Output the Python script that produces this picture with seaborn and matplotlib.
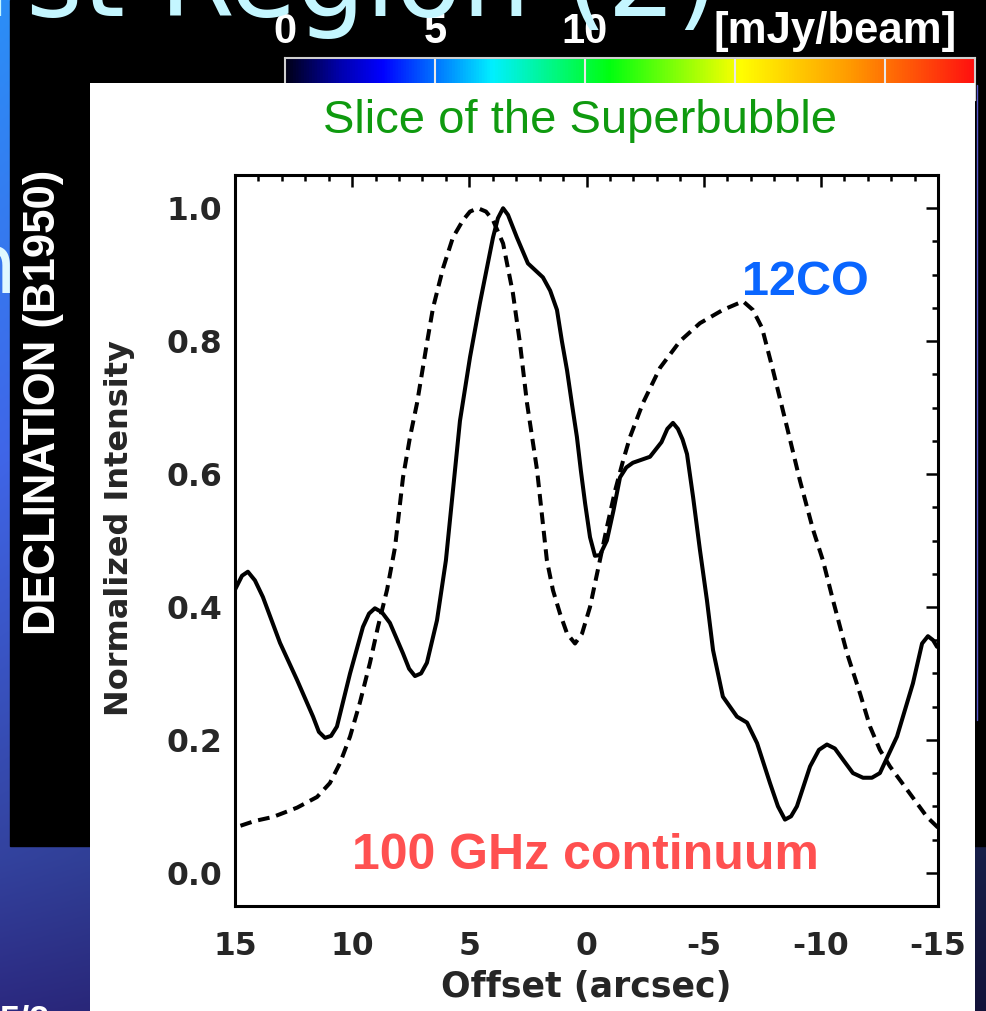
import numpy as np
import pandas as pd
import matplotlib
matplotlib.use("Agg")
import matplotlib.pyplot as plt
import seaborn as sns
from matplotlib.colors import LinearSegmentedColormap
from matplotlib.patches import Rectangle
from matplotlib.ticker import MultipleLocator, FormatStrFormatter

# ---------------------------------------------------------------- data
# 100 GHz continuum slice (solid)
cont_offset = [15.00, 14.70, 14.45, 14.15, 13.81, 13.08, 12.35, 11.67, 11.42, 11.16,
               10.90, 10.65, 10.09, 9.54, 9.28, 9.03, 8.73, 8.39, 7.83, 7.57,
               7.32, 7.06, 6.81, 6.38, 6.00, 5.40, 4.97, 4.55, 3.99, 3.78,
               3.56, 3.35, 2.97, 2.50, 1.86, 1.55, 1.26, 1.05, 0.83, 0.62,
               0.41, 0.24, 0.06, -0.15, -0.36, -0.57, -0.87, -1.15, -1.43, -1.70,
               -1.98, -2.71, -3.20, -3.45, -3.69, -3.90, -4.10, -4.29, -4.55, -4.84,
               -5.14, -5.40, -5.82, -6.42, -6.85, -7.28, -7.83, -8.17, -8.47, -8.73,
               -8.98, -9.54, -9.92, -10.26, -10.60, -10.95, -11.37, -11.80, -12.18, -12.52,
               -13.25, -13.93, -14.32, -14.57, -14.79, -14.96]
cont_value = [0.426, 0.447, 0.453, 0.440, 0.415, 0.346, 0.290, 0.235, 0.212, 0.203,
              0.206, 0.220, 0.300, 0.370, 0.390, 0.398, 0.392, 0.376, 0.330, 0.307,
              0.296, 0.300, 0.316, 0.380, 0.470, 0.680, 0.776, 0.857, 0.956, 0.985,
              1.000, 0.990, 0.956, 0.917, 0.896, 0.876, 0.847, 0.800, 0.756, 0.705,
              0.656, 0.605, 0.556, 0.505, 0.477, 0.478, 0.500, 0.545, 0.595, 0.610,
              0.617, 0.626, 0.648, 0.668, 0.677, 0.668, 0.652, 0.630, 0.565, 0.486,
              0.410, 0.335, 0.265, 0.235, 0.226, 0.195, 0.135, 0.100, 0.080, 0.085,
              0.100, 0.160, 0.185, 0.193, 0.187, 0.170, 0.150, 0.143, 0.143, 0.150,
              0.205, 0.285, 0.345, 0.356, 0.350, 0.340]

# 12CO slice (dashed)
co_offset = [15.00, 14.15, 13.38, 12.35, 11.50, 10.95, 10.52, 10.09, 9.67, 9.24,
             8.90, 8.51, 8.17, 7.83, 7.53, 7.23, 6.81, 6.55, 6.12, 5.70,
             5.27, 4.97, 4.63, 4.29, 3.99, 3.56, 3.14, 2.84, 2.54, 2.11,
             1.69, 1.43, 1.13, 0.83, 0.49, 0.19, -0.15, -0.45, -0.87, -1.22,
             -1.56, -1.86, -2.41, -3.14, -3.99, -4.84, -5.82, -6.68, -7.10, -7.49,
             -7.96, -8.56, -9.11, -9.67, -10.09, -10.52, -11.12, -11.67, -12.10, -12.52,
             -12.95, -13.68, -14.53, -15.00]
co_value = [0.068, 0.078, 0.084, 0.098, 0.114, 0.135, 0.165, 0.205, 0.256, 0.316,
            0.370, 0.426, 0.490, 0.595, 0.656, 0.707, 0.797, 0.850, 0.910, 0.956,
            0.982, 0.995, 1.000, 0.995, 0.982, 0.947, 0.872, 0.797, 0.707, 0.606,
            0.470, 0.425, 0.390, 0.360, 0.345, 0.360, 0.400, 0.450, 0.520, 0.575,
            0.620, 0.656, 0.707, 0.760, 0.800, 0.827, 0.847, 0.860, 0.847, 0.820,
            0.756, 0.670, 0.590, 0.516, 0.470, 0.410, 0.330, 0.270, 0.220, 0.185,
            0.160, 0.125, 0.084, 0.068]

x_ticks = [15, 10, 5, 0, -5, -10, -15]
x_tick_labels = ["15", "10", "5", "0", "-5", "-10", "-15"]
y_ticks = [0.0, 0.2, 0.4, 0.6, 0.8, 1.0]

cbar_ticks = [0, 5, 10]
cbar_tick_labels = ["0", "5", "10"]
cbar_marks = [5, 10, 15, 20]
cbar_max = 23

cont_df = pd.DataFrame({"offset": cont_offset, "intensity": cont_value})
co_df = pd.DataFrame({"offset": co_offset, "intensity": co_value})

# ---------------------------------------------------------------- layout helpers
W, H = 986, 1011


def fx(px):
    return px / W


def fy(py):
    return 1 - py / H


sns.set_style("white")
plt.rcParams["font.family"] = ["DejaVu Sans"]
plt.rcParams["axes.unicode_minus"] = False

fig = plt.figure(figsize=(W / 100, H / 100), dpi=100)

# ---------------------------------------------------------------- slide background
bg = fig.add_axes([0, 0, 1, 1])
yy = np.linspace(0, 1, H)
stops = [0.0, 0.45, 0.85, 1.0]
cols = np.array([[0.17, 0.56, 0.97],
                 [0.25, 0.40, 0.91],
                 [0.20, 0.26, 0.62],
                 [0.17, 0.16, 0.50]])
grad_col = np.stack([np.interp(yy, stops, cols[:, c]) for c in range(3)], axis=-1)
shade = 1 - 0.55 * np.linspace(0, 1, W)
grad = grad_col[:, None, :] * shade[None, :, None]
bg.imshow(grad, extent=(0, W, H, 0), aspect="auto", zorder=0)
bg.add_patch(Rectangle((10, 0), W - 10, 846, color="black", zorder=1))
bg.plot([977, 977], [85, 720], color="#5a5ad0", lw=1.0, zorder=2)
bg.set_xlim(0, W)
bg.set_ylim(H, 0)
bg.axis("off")

# ---------------------------------------------------------------- colour bar
rainbow = LinearSegmentedColormap.from_list(
    "idl_rainbow",
    [(0.0, "#000018"), (0.08, "#0000b0"), (0.14, "#0000ff"), (0.30, "#00f0ff"),
     (0.47, "#00ff10"), (0.66, "#ffff00"), (0.82, "#ff9a00"), (1.0, "#ff1010")])
cax = fig.add_axes([fx(285), fy(100), (975 - 285) / W, (100 - 58) / H])
cax.imshow(np.linspace(0, 1, 512)[None, :], cmap=rainbow,
           extent=(0, cbar_max, 0, 1), aspect="auto")
for v in cbar_marks:
    cax.axvline(v, color="#e8e8e8", lw=1.5)
cax.set_xlim(0, cbar_max)
cax.set_ylim(0, 1)
cax.set_yticks([])
cax.xaxis.tick_top()
cax.set_xticks(cbar_ticks)
cax.set_xticklabels(cbar_tick_labels, family="Liberation Sans", fontweight="bold",
                    fontsize=30, color="white")
cax.tick_params(axis="x", length=0, pad=4.5)
for s in cax.spines.values():
    s.set_color("#cfcfcf")
    s.set_linewidth(1.5)
fig.text(fx(714), fy(43), "[mJy/beam]", family="Liberation Sans", fontweight="bold",
         fontsize=31.5, color="white", ha="left", va="baseline")

# map axis title on the black panel
fig.text(fx(44), fy(402), "DECLINATION (B1950)", family="Liberation Sans",
         fontweight="bold", fontsize=31.5, color="white", rotation=90,
         ha="center", va="center")

# ---------------------------------------------------------------- white plot panel
pax = fig.add_axes([fx(90), 0, (975 - 90) / W, fy(83)])
pax.patch.set_facecolor("white")
pax.set_xticks([])
pax.set_yticks([])
for s in pax.spines.values():
    s.set_visible(False)

# ---------------------------------------------------------------- profile plot
ax = fig.add_axes([fx(235), fy(906), (938 - 235) / W, (906 - 175) / H])
ax.patch.set_alpha(0)
sns.lineplot(data=cont_df, x="offset", y="intensity", ax=ax, color="black",
             lw=2.9, errorbar=None)
sns.lineplot(data=co_df, x="offset", y="intensity", ax=ax, color="black",
             lw=2.9, linestyle=(0, (2.9, 1.7)), errorbar=None)
for ln in ax.get_lines():
    ln.set_solid_joinstyle("round")
    ln.set_dash_joinstyle("round")

ax.set_xlim(15, -15)
ax.set_ylim(-0.05, 1.05)
ax.set_xticks(x_ticks)
ax.set_xticklabels(x_tick_labels)
ax.set_yticks(y_ticks)
ax.yaxis.set_major_formatter(FormatStrFormatter("%.1f"))
ax.xaxis.set_minor_locator(MultipleLocator(1))
ax.yaxis.set_minor_locator(MultipleLocator(0.05))
ax.tick_params(which="both", direction="in", top=True, right=True,
               width=1.8, color="black")
ax.tick_params(which="major", length=8.6, labelsize=22.7)
ax.tick_params(which="minor", length=4.3)
ax.tick_params(axis="x", which="major", pad=18)
ax.tick_params(axis="y", which="major", pad=9.4)
for lab in ax.get_xticklabels() + ax.get_yticklabels():
    lab.set_fontweight("bold")
for s in ax.spines.values():
    s.set_linewidth(2.2)
    s.set_color("black")

ax.set_xlabel("Offset (arcsec)", fontsize=25, fontweight="bold", va="top")
ax.xaxis.set_label_coords(0.5, (906 - 970) / (906 - 175))
ax.set_ylabel("Normalized Intensity", fontsize=23, fontweight="bold")
ax.yaxis.set_label_coords((135 - 235) / (938 - 235), (906 - 528) / (906 - 175))

ax.text(-6.64, 0.870, "12CO", family="Liberation Sans", fontweight="bold",
        fontsize=35, color="#0a66ff", ha="left", va="baseline")
ax.text(10.0, 0.005, "100 GHz continuum", family="Liberation Sans",
        fontweight="bold", fontsize=36, color="#ff5050", ha="left", va="baseline")

fig.text(fx(580), fy(133), "Slice of the Superbubble", family="Liberation Sans",
         fontsize=34, color="#0f9a0f", ha="center", va="baseline")

# ---------------------------------------------------------------- slide text
fig.text(fx(718), fy(16), "First Region (2)", fontsize=78, color="#c4f6ff",
         ha="right", va="baseline")
fig.text(fx(16), fy(293), "n", fontsize=60, color="#e0f8ff",
         ha="right", va="baseline")
fig.text(fx(0), fy(1004), "5/2", family="Liberation Sans", fontweight="bold",
         fontsize=26, color="white", ha="left", va="top")

fig.savefig("out.png", dpi=100)
